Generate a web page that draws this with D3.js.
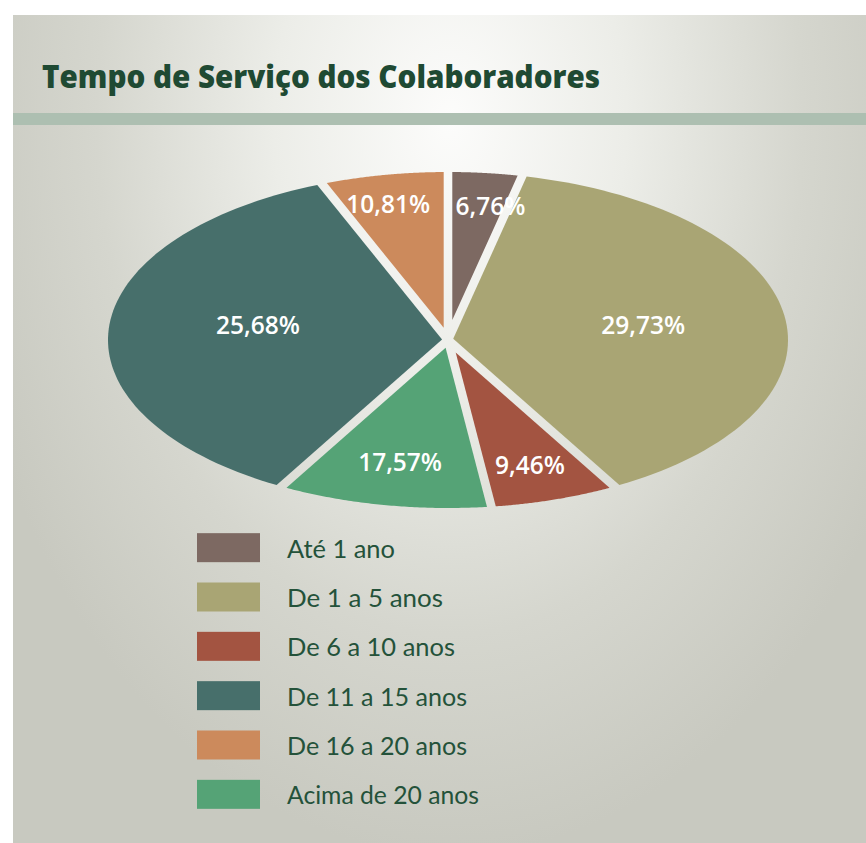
<!DOCTYPE html>
<html><head><meta charset="utf-8">
<script src="https://cdn.jsdelivr.net/npm/d3@7"></script>
<style>html,body{margin:0;padding:0;background:#fff;}svg{display:block;}</style>
</head><body>
<svg id="chart" width="866" height="843"></svg>
<script>
// ---- data ----
const title = "Tempo de Serviço dos Colaboradores";
const categories = ["Até 1 ano", "De 1 a 5 anos", "De 6 a 10 anos", "Acima de 20 anos", "De 11 a 15 anos", "De 16 a 20 anos"];
const values = [6.76, 29.73, 9.46, 17.57, 25.68, 10.81];
const valueLabels = ["6,76%", "29,73%", "9,46%", "17,57%", "25,68%", "10,81%"];
const legendOrder = ["Até 1 ano", "De 1 a 5 anos", "De 6 a 10 anos", "De 11 a 15 anos", "De 16 a 20 anos", "Acima de 20 anos"];
const colors = ["#7d6962", "#a9a574", "#a35441", "#55a376", "#476f6b", "#cc8a5c"];

// ---- layout ----
const W = 866, H = 843;
const cx = 448, cy = 340, rx = 340, ry = 168, pad = 4.3;
// label anchor in units of (rx, ry) from centre
const labelPos = [[0.125, -0.80], [0.574, -0.095], [0.241, 0.744], [-0.141, 0.726], [-0.559, -0.095], [-0.176, -0.815]];

const svg = d3.select("#chart");
const defs = svg.append("defs");
const rg = defs.append("radialGradient").attr("id", "bg")
  .attr("gradientUnits", "userSpaceOnUse")
  .attr("cx", 450).attr("cy", 120).attr("r", 700)
  .attr("gradientTransform", "translate(450,120) scale(0.72,1.05) translate(-450,-120)");
rg.append("stop").attr("offset", 0).attr("stop-color", "#fcfcfb");
rg.append("stop").attr("offset", 0.35).attr("stop-color", "#ecede8");
rg.append("stop").attr("offset", 0.7).attr("stop-color", "#d5d6ce");
rg.append("stop").attr("offset", 1).attr("stop-color", "#c8c9c0");

svg.append("rect").attr("x", 13).attr("y", 15).attr("width", W - 13).attr("height", H - 15).attr("fill", "url(#bg)");
svg.append("rect").attr("x", 13).attr("y", 113).attr("width", W - 13).attr("height", 12).attr("fill", "#adbfb1");

svg.append("text").attr("x", 42).attr("y", 88)
  .attr("font-family", "'Open Sans', sans-serif").attr("font-weight", 800)
  .attr("font-size", 31).attr("fill", "#1f4a33")
  .attr("textLength", 558).attr("lengthAdjust", "spacingAndGlyphs")
  .text(title);

// ---- pie (elliptical, polar angles) ----
const pie = d3.pie().sort(null).value(d => d)(values);
const u = th => [Math.sin(th), -Math.cos(th)];
function ellipseHit(p0, dir) {
  const A = (dir[0] / rx) ** 2 + (dir[1] / ry) ** 2;
  const B = 2 * (p0[0] * dir[0] / rx ** 2 + p0[1] * dir[1] / ry ** 2);
  const C = (p0[0] / rx) ** 2 + (p0[1] / ry) ** 2 - 1;
  const s = (-B + Math.sqrt(B * B - 4 * A * C)) / (2 * A);
  return [p0[0] + s * dir[0], p0[1] + s * dir[1]];
}
function slicePath(d) {
  const t1 = d.startAngle, t2 = d.endAngle;
  const u1 = u(t1), u2 = u(t2);
  const n1 = [Math.cos(t1), Math.sin(t1)], n2 = [-Math.cos(t2), -Math.sin(t2)];
  const half = (t2 - t1) / 2, mid = (t1 + t2) / 2;
  const tipD = pad / Math.sin(half);
  const tip = [u(mid)[0] * tipD, u(mid)[1] * tipD];
  const p1 = ellipseHit([n1[0] * pad, n1[1] * pad], u1);
  const p2 = ellipseHit([n2[0] * pad, n2[1] * pad], u2);
  let a1 = Math.atan2(p1[0] / rx, -p1[1] / ry), a2 = Math.atan2(p2[0] / rx, -p2[1] / ry);
  while (a2 < a1) a2 += 2 * Math.PI;
  const pts = [tip];
  const N = 80;
  for (let i = 0; i <= N; i++) {
    const a = a1 + (a2 - a1) * i / N;
    pts.push([rx * Math.sin(a), -ry * Math.cos(a)]);
  }
  return d3.line()(pts) + "Z";
}
const g = svg.append("g").attr("transform", `translate(${cx},${cy})`);
g.selectAll("path").data(pie).join("path")
  .attr("d", slicePath).attr("fill", (d, i) => colors[i]);
g.selectAll("text").data(pie).join("text")
  .attr("x", (d, i) => labelPos[i][0] * rx).attr("y", (d, i) => labelPos[i][1] * ry)
  .attr("text-anchor", "middle").attr("dominant-baseline", "central")
  .attr("font-family", "'Open Sans', sans-serif").attr("font-weight", 600)
  .attr("font-size", 24.5).attr("fill", "#ffffff")
  .text((d, i) => valueLabels[i]);

// ---- legend ----
const ly = d3.scaleBand().domain(legendOrder).range([523, 819]);
const leg = svg.append("g");
const rows = leg.selectAll("g").data(legendOrder).join("g")
  .attr("transform", d => `translate(0,${ly(d) + ly.bandwidth() / 2})`);
rows.append("rect").attr("x", 197).attr("y", -14.5).attr("width", 63).attr("height", 29)
  .attr("fill", d => colors[categories.indexOf(d)]);
rows.append("text").attr("x", 287).attr("y", 0).attr("dominant-baseline", "central")
  .attr("font-family", "Lato, sans-serif").attr("font-size", 25).attr("fill", "#24523a")
  .attr("textLength", d => d.length * 12.0).attr("lengthAdjust", "spacingAndGlyphs")
  .text(d => d);
</script>
</body></html>
